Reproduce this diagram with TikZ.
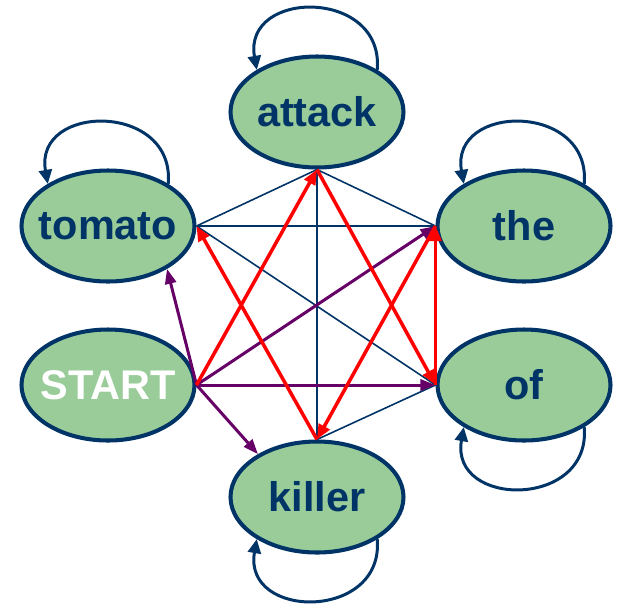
\documentclass[tikz,border=0pt]{standalone}
\usepackage{fontspec}
\setmainfont{Liberation Sans}
\usetikzlibrary{positioning,shapes.geometric,arrows.meta}
\definecolor{stateGreen}{RGB}{153,204,153}
\definecolor{stateNavy}{RGB}{0,51,102}
\definecolor{startPurple}{RGB}{102,0,102}

\begin{document}
\begin{tikzpicture}[
    word/.style={draw=stateNavy, ellipse, fill=stateGreen, line width=1.15pt, minimum width=1.73cm, minimum height=1.11cm, inner xsep=-0.12cm, inner ysep=0pt, text=stateNavy, font=\fontsize{11.8}{14}\selectfont\bfseries},
    link/.style={stateNavy, line width=0.45pt},
    arrow/.style={-{Triangle[length=0.15cm,width=0.12cm]}, red, line width=1pt},
    startarrow/.style={-{Triangle[length=0.15cm,width=0.11cm]}, startPurple, line width=0.85pt},
    selfloop/.style={-{Triangle[length=0.14cm,width=0.13cm]}, stateNavy, line width=0.85pt, looseness=1.75},
    on grid
  ]
  \useasboundingbox (0,0) rectangle (6.21,-6.03);

  \node (attack) [word] at (3.17,-1.12) {attack};
  \node (tomato) [word, below left=1.14cm and 2.09cm of attack] {tomato};
  \node (the) [word, below right=1.14cm and 2.07cm of attack] {the};
  \node (start) [word, below=1.59cm of tomato, text=white] {START};
  \node (of) [word, below=1.59cm of the] {of};
  \node (killer) [word, below=3.85cm of attack] {killer};

  % self transitions
  \draw [selfloop] (attack.35) to[out=85, in=100] (attack.145);
  \draw [selfloop] (tomato.35) to[out=85, in=100] (tomato.145);
  \draw [selfloop] (the.35) to[out=85, in=100] (the.145);
  \draw [selfloop] (of.-35) to[out=-85, in=-100] (of.-145);
  \draw [selfloop] (killer.-35) to[out=-85, in=-100] (killer.-145);

  % plain links
  \draw [link] (attack.south) -- (tomato.east);
  \draw [link] (attack.south) -- (the.west);
  \draw [link] (attack.south) -- (killer.north);
  \draw [link] (tomato.east) -- (the.west);
  \draw [link] (tomato.east) -- (of.west);
  \draw [link] (killer.north) -- (of.west);

  % out of START
  \draw [startarrow] (start.east) -- (tomato.-36);
  \draw [startarrow] (start.east) -- (the.west);
  \draw [startarrow] (start.east) -- (of.west);
  \draw [startarrow] (start.east) -- (killer.144);

  % red path
  \draw [arrow] (start.east) -- (attack.south);
  \draw [arrow] (killer.north) -- (tomato.east);
  \draw [arrow] (attack.south) -- (of.west);
  \draw [arrow] (the.west) -- (killer.north);
  \draw [arrow] (of.west) -- (the.west);
\end{tikzpicture}
\end{document}
